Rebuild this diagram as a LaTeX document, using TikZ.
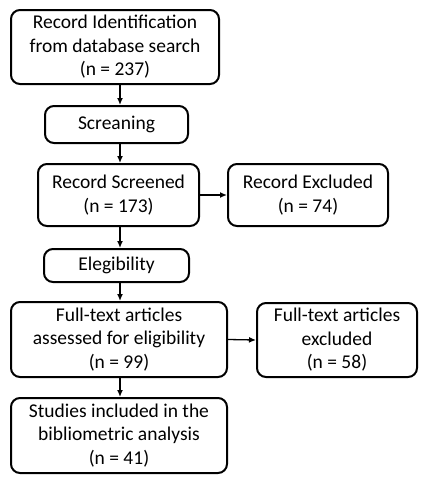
\documentclass[tikz,border=0pt]{standalone}
\usepackage{fontspec}
\setmainfont{Carlito}
\usetikzlibrary{arrows.meta}
\begin{document}
\begin{tikzpicture}[x=1pt,y=-1pt,
  box/.style={draw,line width=2pt,rounded corners=9pt,align=center,inner sep=0pt,
    font=\fontsize{19.5}{23.5}\selectfont},
  arr/.style={line width=1.3pt,-{Latex[length=7pt,width=6pt]}}]
\useasboundingbox (0,0) rectangle (427,483);
\coordinate (ax) at (120,0);
\node[box,minimum width=208pt,minimum height=74pt] (b1) at (115,47) {Record Identification\\from database search\\(n = 237)};
\node[box,minimum width=143pt,minimum height=37pt] (b2) at (116.5,124.5) {Screaning};
\node[box,minimum width=161pt,minimum height=62pt] (b3) at (118.5,195) {Record Screened\\(n = 173)};
\node[box,minimum width=160pt,minimum height=62pt] (b3x) at (308,195) {Record Excluded\\(n = 74)};
\node[box,minimum width=145pt,minimum height=33pt] (b4) at (116.5,265.5) {Elegibility};
\node[box,minimum width=216pt,minimum height=75pt] (b5) at (119,339.5) {Full-text articles\\assessed for eligibility\\(n = 99)};
\node[box,minimum width=160pt,minimum height=74pt] (b5x) at (337,340) {Full-text articles\\excluded\\(n = 58)};
\node[box,minimum width=216pt,minimum height=75pt] (b6) at (119,435.5) {Studies included in the\\bibliometric analysis\\(n = 41)};
\draw[arr] (b1.south -| ax) -- (b2.north -| ax);
\draw[arr] (b2.south -| ax) -- (b3.north -| ax);
\draw[arr] (b3.south -| ax) -- (b4.north -| ax);
\draw[arr] (b4.south -| ax) -- (b5.north -| ax);
\draw[arr] (b5.south -| ax) -- (b6.north -| ax);
\draw[arr] (b3.east) -- (b3x.west);
\draw[arr] (b5.east) -- (b5x.west);
\end{tikzpicture}
\end{document}
